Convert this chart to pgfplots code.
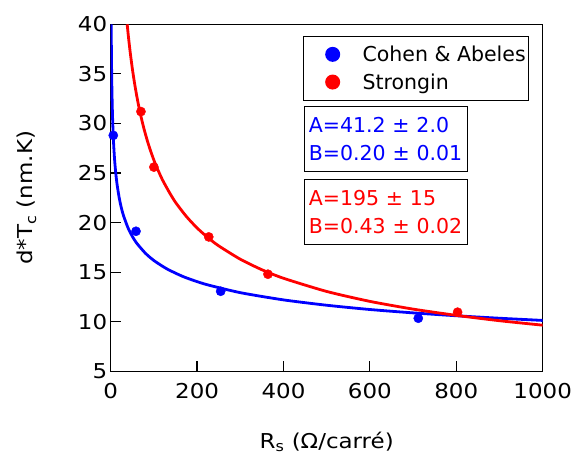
\documentclass[border=0pt]{standalone}
\usepackage{fontspec}
\setmainfont{DejaVu Sans}
\newfontfamily\widefont{DejaVu Sans}[FakeStretch=1.12]
\usepackage{pgfplots}
\pgfplotsset{compat=1.18}
\definecolor{cblue}{RGB}{0,0,255}
\definecolor{cred}{RGB}{255,0,0}
\newcommand{\bigfont}{\fontsize{20.5}{24}\selectfont}
\newcommand{\widebig}{\widefont\fontsize{20.5}{24}\selectfont}
\begin{document}
\begin{tikzpicture}
\useasboundingbox (-110.7pt,-85.6pt) rectangle (463.3pt,371.4pt);
\begin{axis}[
  scale only axis,
  width=432pt, height=347.1pt,
  xmin=0, xmax=1000, ymin=5, ymax=40,
  xtick={0,200,400,600,800,1000},
  ytick={5,10,15,20,25,30,35,40},
  tick pos=left, tick align=inside,
  major tick length=10.5pt,
  axis line style={line width=1.3pt},
  tick style={line width=1.2pt, black},
  /pgf/number format/assume math mode=true,
  /pgf/number format/1000 sep={},
  every tick label/.append style={font=\widebig},
  xticklabel style={yshift=-8pt},
  label style={font=\widebig},
  xlabel={R\textsubscript{s} (Ω/carré)},
  ylabel={d*T\textsubscript{c} (nm.K)},
  xlabel style={at={(axis description cs:0.5,-0.2207)}, anchor=base},
  ylabel style={at={(axis description cs:-0.1799,0.5)}, anchor=base},
  clip mode=individual,
  legend style={at={(rel axis cs:0.4458,0.9677)}, anchor=north west,
    draw=black, line width=1pt, inner xsep=0pt, inner ysep=4.5pt,
    row sep=0pt, nodes={inner xsep=2.8pt, inner ysep=0pt}, font=\bigfont},
  legend cell align=left,
]
\addplot[cblue, line width=2.8pt, smooth, tension=0.4, forget plot] coordinates {
(1.157,40) (1.3,39.06) (1.5,37.94) (2,35.79) (2.5,34.21) (3,32.97) (4,31.09)
(5,29.72) (6,28.64) (7,27.76) (8.5,26.68) (10,25.82) (12,24.88) (15,23.78)
(20,22.43) (25,21.43) (30,20.66) (40,19.48) (50,18.62) (60,17.94) (80,16.93)
(100,16.18) (130,15.34) (170,14.52) (220,13.78) (300,12.94) (400,12.21)
(500,11.67) (600,11.24) (700,10.90) (800,10.61) (900,10.36) (1000,10.14)};
\addplot[only marks, mark=*, mark size=4.6pt, cblue, forget plot] coordinates {
(6,28.8) (58.6,19.13) (254.6,13.08) (712,10.36)};
\addplot[cred, line width=2.8pt, smooth, tension=0.4, forget plot] coordinates {
(38.16,40) (41,38.77) (45,37.23) (50,35.56) (55,34.12) (60,32.85) (65,31.72)
(70,30.72) (77,29.47) (85,28.23) (92,27.28) (100,26.30) (110,25.25) (120,24.30)
(135,23.11) (150,22.05) (175,20.63) (200,19.46) (225,18.49) (250,17.66)
(300,16.31) (350,15.25) (400,14.39) (500,13.06) (600,12.06)
(700,11.28) (800,10.65) (900,10.11) (1000,9.66)};
\addplot[only marks, mark=*, mark size=4.6pt, cred, forget plot] coordinates {
(70,31.2) (100,25.6) (227,18.56) (364,14.8) (803,10.97)};
\addlegendimage{legend image code/.code={\path[draw=none] (-28.9pt,-13.85pt) rectangle (27.1pt,13.85pt); \fill[cblue, draw=none] (0pt,0pt) circle (7.5pt);}}
\addlegendentry{Cohen \& Abeles}
\addlegendimage{legend image code/.code={\path[draw=none] (-28.9pt,-13.85pt) rectangle (27.1pt,13.85pt); \fill[cred, draw=none] (0pt,0pt) circle (7.5pt);}}
\addlegendentry{Strongin}
\node[draw=black, line width=1pt, anchor=north west, align=left,
  text width=154pt, inner xsep=4.3pt, minimum height=64.7pt,
  text=cblue, font=\fontsize{20.5}{28.4}\selectfont]
  at (rel axis cs:0.4475,0.7646) {A=41.2 ± 2.0\\B=0.20 ± 0.01};
\node[draw=black, line width=1pt, anchor=north west, align=left,
  text width=154pt, inner xsep=4.3pt, minimum height=64.7pt,
  text=cred, font=\fontsize{20.5}{28.4}\selectfont]
  at (rel axis cs:0.4475,0.5534) {A=195 ± 15\\B=0.43 ± 0.02};
\end{axis}
\end{tikzpicture}
\end{document}
